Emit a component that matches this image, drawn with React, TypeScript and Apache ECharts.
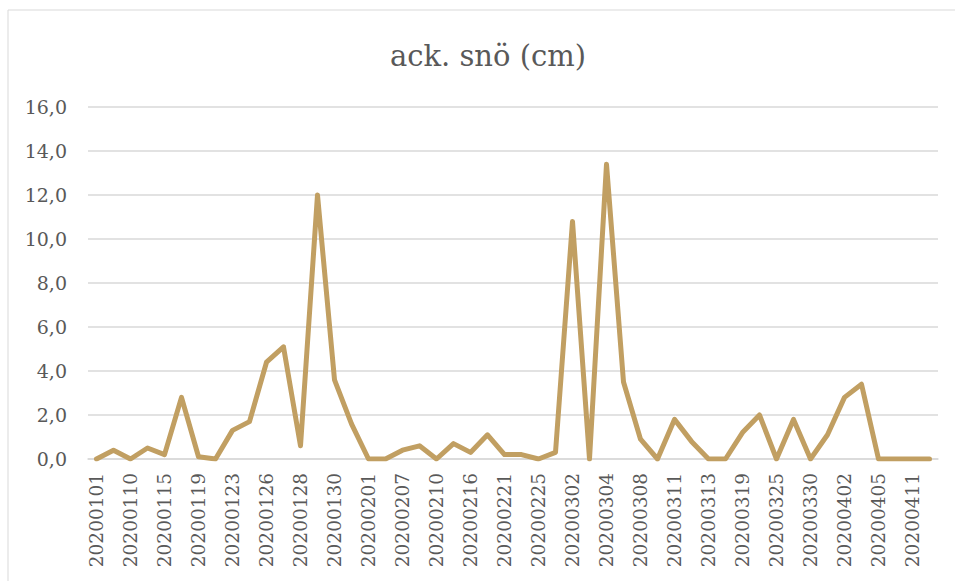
import React, { useEffect, useRef } from "react";
import * as echarts from "echarts";

const categories: string[] = [
  "20200101", "20200105", "20200110", "20200113", "20200115", "20200117", "20200119", "20200122",
  "20200123", "20200124", "20200126", "20200127", "20200128", "20200129", "20200130", "20200131",
  "20200201", "20200206", "20200207", "20200209", "20200210", "20200214", "20200216", "20200220",
  "20200221", "20200224", "20200225", "20200301", "20200302", "20200303", "20200304", "20200306",
  "20200308", "20200310", "20200311", "20200312", "20200313", "20200318", "20200319", "20200320",
  "20200325", "20200326", "20200330", "20200401", "20200402", "20200404", "20200405", "20200410",
  "20200411", "20200415",
];

const snow: number[] = [
  0.0, 0.4, 0.0, 0.5, 0.2, 2.8, 0.1, 0.0, 1.3, 1.7,
  4.4, 5.1, 0.6, 12.0, 3.6, 1.6, 0.0, 0.0, 0.4, 0.6,
  0.0, 0.7, 0.3, 1.1, 0.2, 0.2, 0.0, 0.3, 10.8, 0.0,
  13.4, 3.5, 0.9, 0.0, 1.8, 0.8, 0.0, 0.0, 1.2, 2.0,
  0.0, 1.8, 0.0, 1.1, 2.8, 3.4, 0.0, 0.0, 0.0, 0.0,
];

const titleText = "ack. snö (cm)";
const serif = "DejaVu Serif";
const textColor = "#595959";

export default function App() {
  const ref = useRef<HTMLDivElement>(null);
  useEffect(() => {
    if (!ref.current) return;
    const chart = echarts.init(ref.current, undefined, { renderer: "svg" });
    chart.setOption({
      animation: false,
      backgroundColor: "#ffffff",
      textStyle: { fontFamily: serif },
      graphic: [
        {
          type: "rect",
          shape: { x: 8, y: 10, width: 1000, height: 700 },
          style: { fill: "none", stroke: "#d9d9d9", lineWidth: 1 },
          silent: true,
        },
        {
          type: "text",
          x: 488,
          y: 56,
          style: {
            text: titleText,
            fontFamily: serif,
            fontSize: 29,
            fill: textColor,
            textAlign: "center",
            textVerticalAlign: "middle",
          },
        },
      ],
      grid: {
        left: 88,
        right: 17,
        top: 107,
        bottom: 122,
        containLabel: false,
        outerBoundsMode: "none",
      },
      xAxis: {
        type: "category",
        data: categories,
        boundaryGap: true,
        axisLine: { show: true, lineStyle: { color: "#d9d9d9", width: 1.5 } },
        axisTick: { show: false },
        axisLabel: {
          interval: 1,
          rotate: 90,
          margin: 14,
          fontFamily: serif,
          fontSize: 18.5,
          color: textColor,
        },
      },
      yAxis: {
        type: "value",
        min: 0,
        max: 16,
        interval: 2,
        axisLine: { show: false },
        axisTick: { show: false },
        splitLine: { lineStyle: { color: "#d9d9d9", width: 1.5 } },
        axisLabel: {
          margin: 21,
          fontFamily: serif,
          fontSize: 19,
          color: textColor,
          formatter: (v: number) => v.toFixed(1).replace(".", ","),
        },
      },
      series: [
        {
          type: "line",
          data: snow,
          symbol: "none",
          lineStyle: { color: "#c19f62", width: 5, join: "round", cap: "round" },
          itemStyle: { color: "#c19f62" },
        },
      ],
    });
    return () => chart.dispose();
  }, []);
  return (
    <div
      ref={ref}
      style={{ position: "fixed", left: 0, top: 0, width: 955, height: 581 }}
    />
  );
}
